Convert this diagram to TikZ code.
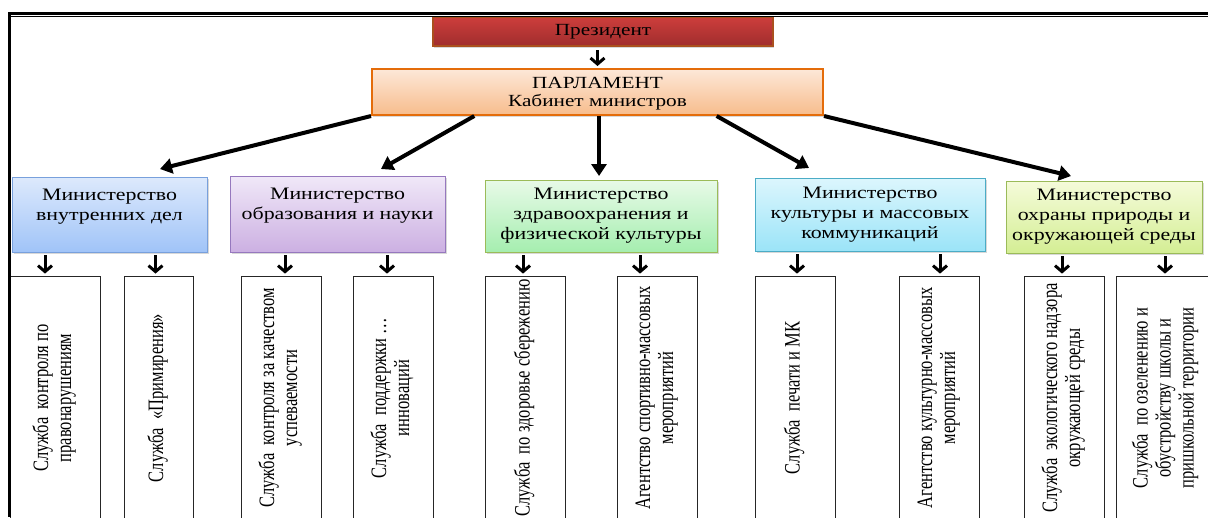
\documentclass[tikz,border=0pt]{standalone}
\usepackage{fontspec}
\setmainfont{Liberation Serif}
\newfontfamily\hfont[FakeStretch=1.25]{Liberation Serif}
\newfontfamily\vfont[FakeStretch=0.75]{Liberation Serif}
\usepackage{graphicx}
\usepackage{xcolor}
\usetikzlibrary{positioning,
        arrows.meta,
        calc,
        shadows}
\newcommand{\vlab}[1]{\rotatebox{90}{\begin{tabular}{@{}c@{}}#1\end{tabular}}}

\definecolor{presline}{RGB}{170,80,30}
\definecolor{prestop}{RGB}{205,62,60}
\definecolor{presbot}{RGB}{160,45,45}
\definecolor{parlline}{RGB}{228,108,10}
\definecolor{parltop}{RGB}{253,232,216}
\definecolor{parlbot}{RGB}{247,188,140}
\definecolor{mline1}{RGB}{120,160,220}
\definecolor{mtop1}{RGB}{221,233,252}
\definecolor{mbot1}{RGB}{160,196,248}
\definecolor{mline2}{RGB}{150,120,190}
\definecolor{mtop2}{RGB}{240,232,248}
\definecolor{mbot2}{RGB}{204,176,226}
\definecolor{mline3}{RGB}{155,187,89}
\definecolor{mtop3}{RGB}{232,250,232}
\definecolor{mbot3}{RGB}{165,238,175}
\definecolor{mline4}{RGB}{75,172,198}
\definecolor{mtop4}{RGB}{220,246,253}
\definecolor{mbot4}{RGB}{155,228,248}
\definecolor{mline5}{RGB}{155,187,89}
\definecolor{mtop5}{RGB}{245,251,218}
\definecolor{mbot5}{RGB}{212,238,148}

\begin{document}
\begin{tikzpicture}[x=1pt,y=-1pt,
        head/.style={draw=#1, line width=2pt, inner sep=0pt, align=center,
                drop shadow={shadow xshift=1pt,shadow yshift=-1.5pt,fill=black!30}},
        mins/.style={draw=mline#1, line width=0.8pt, top color=mtop#1, bottom color=mbot#1,
                inner sep=0pt, align=center, font=\hfont\fontsize{17.5}{20}\selectfont,
                drop shadow={shadow xshift=1.5pt,shadow yshift=-1.5pt,fill=black!30}},
        svc/.style={draw=black!85, line width=0.8pt, fill=white, inner sep=0pt,
                minimum height=244pt, font=\vfont\fontsize{22}{23}\selectfont},
        bigarr/.style={line width=4pt, -{Triangle[length=12pt,width=15pt]}},
        smallarr/.style={line width=3pt, -{Straight Barb[length=6pt,width=14pt]},
                shorten <=3pt, shorten >=2pt}]
        \useasboundingbox (0,0) rectangle (1208,517);
        \clip (0,0) rectangle (1208,517);

        \node [head=presline, top color=prestop, bottom color=presbot, minimum width=340pt,
                minimum height=29pt, font=\hfont\fontsize{17}{19}\selectfont] (pres) at (603,31.5) {Президент};
        \node [head=parlline, top color=parltop, bottom color=parlbot, minimum width=451pt,
                minimum height=46pt, text depth=1pt, font=\hfont\fontsize{17}{18}\selectfont] (parl) at (597.5,92) {ПАРЛАМЕНТ\\Кабинет министров};

        \node [mins=1, minimum width=195pt, minimum height=75pt] (m1) at (109.5,214.5) {Министерство\\внутренних дел\\~};
        \node [mins=2, minimum width=215pt, minimum height=76pt] (m2) at (337.5,214) {Министерство\\образования и науки\\~};
        \node [mins=3, minimum width=232pt, minimum height=72pt] (m3) at (601,216) {Министерство\\здравоохранения и\\физической культуры};
        \node [mins=4, minimum width=230pt, minimum height=73pt] (m4) at (870,214.5) {Министерство\\культуры и массовых\\коммуникаций};
        \node [mins=5, minimum width=196pt, minimum height=72pt] (m5) at (1104,217) {Министерство\\охраны природы и\\окружающей среды};

        \node [svc, minimum width=90pt] (s1) at (55,398) {\vlab{Служба~ контроля по\\правонарушениям}};
        \node [svc, minimum width=69pt] (s2) at (158.5,398) {\vlab{Служба~ «Примирения»}};
        \node [svc, minimum width=80pt] (s3) at (281,398) {\vlab{Служба~ контроля за качеством\\успеваемости}};
        \node [svc, minimum width=80pt] (s4) at (393,398) {\vlab{Служба~ поддержки …\\инноваций}};
        \node [svc, minimum width=80pt] (s5) at (525,398) {\vlab{Служба~ по здоровье сбережению}};
        \node [svc, minimum width=80pt] (s6) at (657,398) {\vlab{Агентство спортивно-массовых\\мероприятий}};
        \node [svc, minimum width=80pt] (s7) at (795,398) {\vlab{Служба~ печати и МК}};
        \node [svc, minimum width=80pt] (s8) at (939,398) {\vlab{Агентство культурно-массовых\\мероприятий}};
        \node [svc, minimum width=80pt] (s9) at (1064,398) {\vlab{Служба~ экологического надзора\\окружающей среды}};
        \node [svc, minimum width=100pt] (s10) at (1166,398) {\vlab{Служба~ по озеленению и\\обустройству школы и\\пришкольной территории}};

        \coordinate (t1) at (160,169);
        \coordinate (t2) at (381,169);
        \coordinate (t3) at (599,176);
        \coordinate (t4) at (809,168);
        \coordinate (t5) at (1071,176);

        \draw [smallarr] (pres.south -| parl.north) -- (parl.north);
        \draw [bigarr] (parl.south west) -- (t1);
        \draw [bigarr] ($(parl.south west)!0.228!(parl.south east)$) -- (t2);
        \draw [bigarr] (t3 |- parl.south) -- (t3);
        \draw [bigarr] ($(parl.south west)!0.763!(parl.south east)$) -- (t4);
        \draw [bigarr] (parl.south east) -- (t5);

        \foreach \m/\s/\d in {1/1/-10,1/2/-3,2/3/4,2/4/-6,3/5/-2,3/6/-17,4/7/2,4/8/1,5/9/-2,5/10/-1}
                \draw [smallarr] ($(s\s.north |- m\m.south)+(\d,0)$) -- ($(s\s.north)+(\d,0)$);

        \draw [line width=2.6pt] (8,13.3) -- (1208,13.3);
        \draw [line width=1.3pt] (8,16.7) -- (1208,16.7);
        \draw [line width=2.5pt] (9.5,12) -- (9.5,517);
\end{tikzpicture}
\end{document}
